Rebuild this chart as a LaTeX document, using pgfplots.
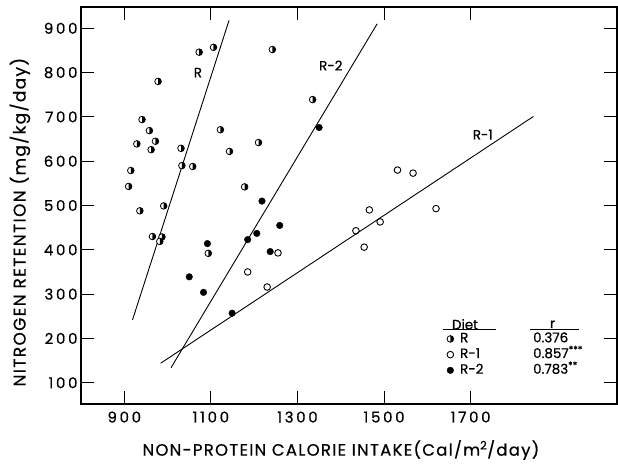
\documentclass[border=0pt]{standalone}
\usepackage{fontspec}
\setmainfont{Poppins}[FakeBold=0.7]
\newfontfamily\tickfont[LetterSpace=18,FakeBold=0.7]{Poppins}
\newfontfamily\labfont[LetterSpace=8,FakeBold=0.7]{Poppins}
\usepackage{pgfplots}
\usepackage{pgfplotstable}
\pgfplotsset{compat=1.18}
\pgfplotsset{mylegimg/.style={legend image code/.code={\draw[##1] plot coordinates {(0bp,0bp)};}}}

\pgfplotstableread{
x y
910 543
915 579
936 488
929 639
941 694
958 669
962 626
972 645
978 780
991 499
965 430
987 429
982 419
1031 629
1033 590
1058 588
1073 846
1106 857
1122 671
1143 622
1178 542
1210 642
1242 852
1335 739
1094 392
}\dataR

\pgfplotstableread{
x y
1185 350
1230 316
1255 393
1435 443
1454 406
1466 490
1491 463
1531 580
1567 573
1620 493
}\dataRone

\pgfplotstableread{
x y
1050 339
1083 304
1092 414
1149 257
1185 423
1206 437
1218 510
1237 396
1259 455
1350 676
}\dataRtwo

\begin{document}
\begin{tikzpicture}
\begin{axis}[
  scale only axis, width=536bp, height=397bp,
  xmin=800, xmax=2038, ymin=52, ymax=948,
  xtick={900,1100,1300,1500,1700},
  ytick={100,200,300,400,500,600,700,800,900},
  tick align=inside, major tick length=13bp,
  tick style={line width=1.1bp, black},
  axis line style={line width=1.3bp},
  /pgf/number format/assume math mode=true,
  /pgf/number format/1000 sep={},
  ticklabel style={font=\tickfont\fontsize{15}{15}\selectfont},
  xticklabel style={yshift=-4bp},
  xlabel={NON-PROTEIN CALORIE INTAKE(Cal/m\textsuperscript{2}/day)},
  ylabel={NITROGEN RETENTION (mg/kg/day)},
  xlabel style={at={(axis description cs:0.485,-0.116)}, anchor=center, font=\labfont\fontsize{16.5}{16.5}\selectfont},
  ylabel style={at={(axis description cs:-0.114,0.458)}, anchor=center, font=\labfont\fontsize{17}{17}\selectfont},
  clip=false,
  legend style={at={(axis cs:1645,217)}, anchor=north west, draw=none, fill=none,
    inner sep=0pt, font=\fontsize{13.5}{13.5}\selectfont,
    nodes={inner sep=1.5bp, text height=9.7bp, text depth=3bp},
    /tikz/every odd column/.style={column sep=5bp}},
  legend cell align=left,
]
\addplot[only marks, mark=halfcircle*, mark size=3.3bp, mark color=black,
  mark options={rotate=90, fill=white, mark color=black, line width=0.8bp},
  mylegimg]
  table {\dataR};
\addlegendentry{\makebox[73bp][l]{R}0.376}
\addplot[only marks, mark=o, mark size=3.3bp, mark options={line width=0.9bp},
  mylegimg]
  table {\dataRone};
\addlegendentry{\makebox[73bp][l]{R-1}0.857\textsuperscript{***}}
\addplot[only marks, mark=*, mark size=3.3bp, black,
  mylegimg]
  table {\dataRtwo};
\addlegendentry{\makebox[73bp][l]{R-2}0.783\textsuperscript{**}}

\addplot[black, line width=0.9bp, forget plot] coordinates {(919,242) (1142,918)};
\addplot[black, line width=0.9bp, forget plot] coordinates {(1008,134) (1484,910)};
\addplot[black, line width=0.9bp, forget plot] coordinates {(984,144) (1845,701)};

\node[font=\fontsize{13.5}{13.5}\selectfont] at (axis cs:1070,800) {R};
\node[font=\fontsize{13.5}{13.5}\selectfont] at (axis cs:1377,816) {R-2};
\node[font=\fontsize{13.5}{13.5}\selectfont] at (axis cs:1728,660) {R-1};

\node[font=\fontsize{13.5}{13.5}\selectfont] at (axis cs:1687,232) {Diet};
\node[font=\fontsize{13.5}{13.5}\selectfont] at (axis cs:1889,232) {r};
\draw[line width=0.8bp] (axis cs:1637,220) -- (axis cs:1759,220);
\draw[line width=0.8bp] (axis cs:1837,220) -- (axis cs:1951,220);

\coordinate (O) at (rel axis cs:0,0);
\end{axis}
\pgfresetboundingbox
\path (O) ++(-81bp,-60bp) rectangle ++(618bp,464bp);
\end{tikzpicture}
\end{document}
